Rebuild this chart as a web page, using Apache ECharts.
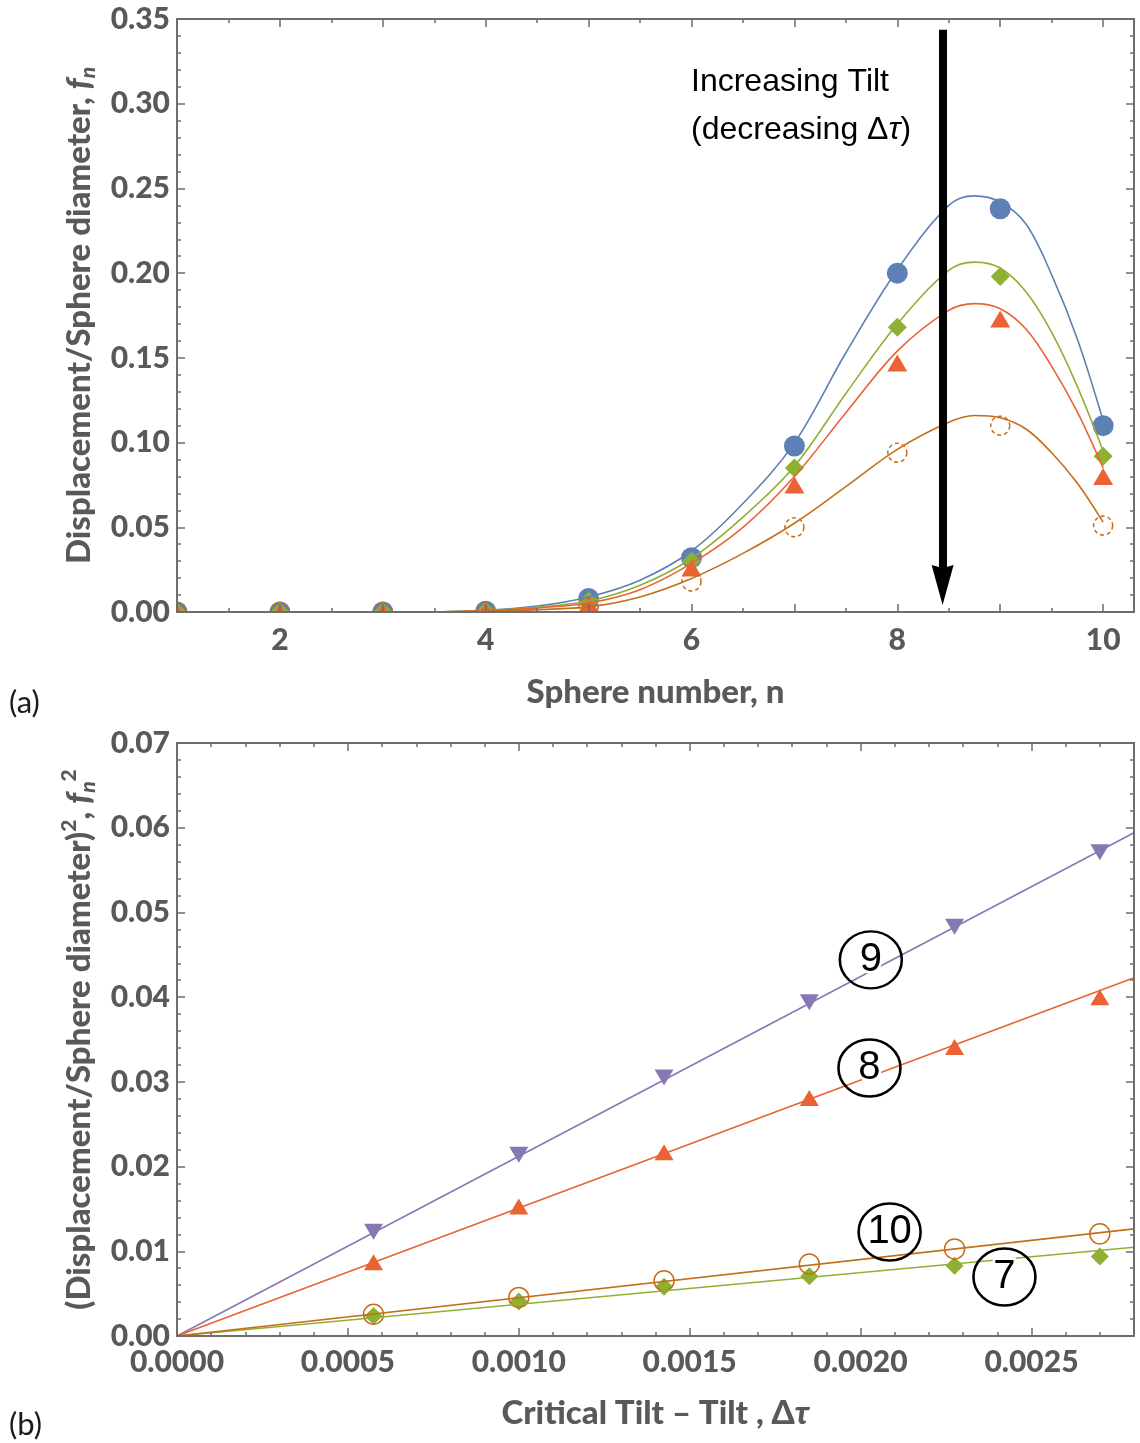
<!DOCTYPE html>
<html>
<head>
<meta charset="utf-8">
<script src="https://cdn.jsdelivr.net/npm/echarts@6/dist/echarts.min.js"></script>
<style>
html,body{margin:0;padding:0;background:#fff;}
#chart{width:1140px;height:1443px;}
</style>
</head>
<body>
<div id="chart"></div>
<script>
// ---------- Panel (a) data ----------
const sphereN = [1, 2, 3, 4, 5, 6, 7, 8, 9, 10];
const fBlue   = [0, 0, 0, 0.0005, 0.008, 0.032, 0.098, 0.200, 0.238, 0.110];
const fGreen  = [0, 0, 0, 0.0005, 0.0065, 0.030, 0.085, 0.168, 0.198, 0.092];
const fRed    = [0, 0, 0, 0.0004, 0.005, 0.026, 0.075, 0.147, 0.173, 0.080];
const fOrange = [0, 0, 0, 0.0003, 0.003, 0.018, 0.050, 0.094, 0.110, 0.051];

// fitted curves
const curveN      = [3.5, 4, 4.5, 5, 5.5, 6, 6.5, 7, 7.5, 8, 8.5, 8.75, 9, 9.25, 9.5, 9.75, 10];
const curveBlue   = [0, 0.001, 0.0035, 0.0089, 0.0188, 0.036, 0.064, 0.0998, 0.153, 0.202, 0.240, 0.2456, 0.242, 0.229, 0.199, 0.161, 0.113];
const curveGreen  = [0, 0.0008, 0.0028, 0.0065, 0.0158, 0.0316, 0.056, 0.086, 0.129, 0.170, 0.2016, 0.2065, 0.203, 0.189, 0.165, 0.133, 0.095];
const curveRed    = [0, 0.0007, 0.0024, 0.0053, 0.0132, 0.0287, 0.050, 0.080, 0.1176, 0.154, 0.178, 0.182, 0.179, 0.167, 0.145, 0.118, 0.085];
const curveOrange = [0, 0.0005, 0.0014, 0.003, 0.0089, 0.0198, 0.0346, 0.0524, 0.074, 0.096, 0.112, 0.116, 0.1146, 0.108, 0.094, 0.076, 0.053];

// arrow annotation (data coords)
const arrowN = 8.44;
const arrowTop = 0.3436;
const arrowShaftEnd = 0.024;
const arrowHeadCenter = 0.0159;

// ---------- Panel (b) data ----------
const tiltDelta = [0.000575, 0.001, 0.001425, 0.00185, 0.002275, 0.0027];
const f2n9  = [0.0123, 0.0214, 0.0305, 0.0394, 0.0483, 0.0571];
const f2n8  = [0.0087, 0.0153, 0.0217, 0.0281, 0.0341, 0.0400];
const f2n10 = [0.00257, 0.00455, 0.00652, 0.0085, 0.01028, 0.01206];
const f2n7  = [0.00237, 0.00407, 0.00581, 0.00704, 0.0083, 0.00937];

const fitX   = [0, 0.0028];
const fit9   = [0, 0.0594];
const fit8   = [0, 0.0423];
const fit10  = [0, 0.01265];
const fit7   = [0, 0.01047];

const tagNames = ['9', '8', '10', '7'];
const tagX = [0.00203, 0.002026, 0.002085, 0.002421];
const tagY = [0.0444, 0.03164, 0.01228, 0.00697];

// ---------- styles ----------
const BLUE = '#5E81B5', GREEN = '#8FB032', RED = '#EB6235', ORANGE = '#C56E1A', PURPLE = '#8778B3';
const AX = '#6e6e6e', LBL = '#595959';
const FONT = 'Lato, "Noto Sans", "DejaVu Sans", sans-serif';
const SANS = '"Liberation Sans", Arial, Helvetica, sans-serif';
const TS = 33; // axis title size

const zip = (xs, ys) => xs.map((x, i) => [x, ys[i]]);

function frameAxis(extra) {
  return Object.assign({
    type: 'value', z: 10,
    axisLine: { show: true, onZero: false, lineStyle: { color: AX, width: 2 } },
    axisTick: { show: true, inside: true, length: 8, lineStyle: { color: AX, width: 1.5 } },
    minorTick: { show: true, splitNumber: 5, length: 4, lineStyle: { color: AX, width: 1.5 } },
    splitLine: { show: false },
    minorSplitLine: { show: false },
    axisLabel: { show: false }
  }, extra);
}
const tickLabel = (fmt, margin) => ({
  show: true, margin: margin, fontSize: 30, fontWeight: 900, color: LBL, fontFamily: FONT, formatter: fmt
});
const nameStyle = {
  fontSize: TS, fontWeight: 900, color: LBL, fontFamily: FONT,
  rich: {
    f: { fontSize: TS, fontWeight: 900, fontStyle: 'italic', color: LBL, fontFamily: FONT, lineHeight: 40 },
    s: { fontSize: 21, fontWeight: 900, fontStyle: 'italic', color: LBL, fontFamily: FONT, lineHeight: 21, verticalAlign: 'bottom' },
    p: { fontSize: 21, fontWeight: 900, color: LBL, fontFamily: FONT, lineHeight: 21, verticalAlign: 'top' },
    t: { fontSize: TS, fontWeight: 900, fontStyle: 'italic', color: LBL, fontFamily: FONT, lineHeight: 40 },
    m: { fontSize: TS, fontWeight: 900, color: LBL, fontFamily: FONT, lineHeight: 40 }
  }
};

const isMult = (v, step) => Math.abs(v / step - Math.round(v / step)) < 1e-6;

const option = {
  animation: false,
  backgroundColor: '#ffffff',
  grid: [
    { left: 177, right: 6, top: 19, height: 593 },
    { left: 177, right: 6, top: 743, height: 593 }
  ],
  xAxis: [
    frameAxis({
      gridIndex: 0, position: 'bottom', min: 1, max: 10.3, interval: 1,
      minorTick: { show: true, splitNumber: 2, length: 4, lineStyle: { color: AX, width: 1.5 } },
      axisLabel: tickLabel(v => (isMult(v, 2) ? String(Math.round(v)) : ''), 13),
      name: '{m|Sphere number, n}', nameLocation: 'middle', nameGap: 60, nameTextStyle: nameStyle
    }),
    frameAxis({
      gridIndex: 0, position: 'top', min: 1, max: 10.3, interval: 1,
      minorTick: { show: true, splitNumber: 2, length: 4, lineStyle: { color: AX, width: 1.5 } }
    }),
    frameAxis({
      gridIndex: 1, position: 'bottom', min: 0, max: 0.0028, interval: 0.0005,
      axisLabel: tickLabel(v => (isMult(v, 0.0005) ? v.toFixed(4) : ''), 11),
      name: '{m|Critical Tilt – Tilt , Δ}{t|τ}', nameLocation: 'middle', nameGap: 57, nameTextStyle: nameStyle
    }),
    frameAxis({ gridIndex: 1, position: 'top', min: 0, max: 0.0028, interval: 0.0005 })
  ],
  yAxis: [
    frameAxis({
      gridIndex: 0, position: 'left', min: 0, max: 0.35, interval: 0.05,
      axisLabel: tickLabel(v => v.toFixed(2), 7),
      name: '{m|Displacement/Sphere diameter, }{f|f}{s|n}', nameLocation: 'middle', nameGap: 78, nameTextStyle: nameStyle
    }),
    frameAxis({ gridIndex: 0, position: 'right', min: 0, max: 0.35, interval: 0.05 }),
    frameAxis({
      gridIndex: 1, position: 'left', min: 0, max: 0.07, interval: 0.01,
      axisLabel: tickLabel(v => v.toFixed(2), 7),
      name: '{m|(Displacement/Sphere diameter)}{p|2}{m|, }{f|f}{s|n}{p|2}', nameLocation: 'middle', nameGap: 78, nameTextStyle: nameStyle
    }),
    frameAxis({ gridIndex: 1, position: 'right', min: 0, max: 0.07, interval: 0.01 })
  ],
  series: [
    // ----- panel (a) markers -----
    { type: 'scatter', xAxisIndex: 0, yAxisIndex: 0, data: zip(sphereN, fBlue), symbol: 'circle', symbolSize: 21, itemStyle: { color: BLUE, opacity: 1 } },
    { type: 'scatter', xAxisIndex: 0, yAxisIndex: 0, data: zip(sphereN, fGreen), symbol: 'diamond', symbolSize: [19, 19], itemStyle: { color: GREEN, opacity: 1 } },
    { type: 'scatter', xAxisIndex: 0, yAxisIndex: 0, data: zip(sphereN, fRed), symbol: 'triangle', symbolSize: [20, 17], itemStyle: { color: RED, opacity: 1 } },
    { type: 'scatter', xAxisIndex: 0, yAxisIndex: 0, data: zip(sphereN, fOrange), symbol: 'circle', symbolSize: 19,
      itemStyle: { color: 'rgba(255,255,255,0)', borderColor: ORANGE, borderWidth: 1.5, borderType: [4, 3], opacity: 1 } },
    // ----- panel (a) curves -----
    { type: 'line', xAxisIndex: 0, yAxisIndex: 0, data: zip(curveN, curveBlue), smooth: 0.35, showSymbol: false, lineStyle: { color: BLUE, width: 1.6 } },
    { type: 'line', xAxisIndex: 0, yAxisIndex: 0, data: zip(curveN, curveGreen), smooth: 0.35, showSymbol: false, lineStyle: { color: GREEN, width: 1.6 } },
    { type: 'line', xAxisIndex: 0, yAxisIndex: 0, data: zip(curveN, curveRed), smooth: 0.35, showSymbol: false, lineStyle: { color: RED, width: 1.6 } },
    { type: 'line', xAxisIndex: 0, yAxisIndex: 0, data: zip(curveN, curveOrange), smooth: 0.35, showSymbol: false, lineStyle: { color: ORANGE, width: 1.6 },
      markLine: {
        silent: true, animation: false,
        symbol: ['none', 'none'],
        label: { show: false },
        lineStyle: { color: '#000', width: 8, type: 'solid', opacity: 1 },
        data: [[{ coord: [arrowN, arrowTop] }, { coord: [arrowN, arrowShaftEnd] }]]
      },
      markPoint: {
        silent: true, animation: false,
        symbol: 'path://M0,0 L11,3 L22,0 L11,40 Z', symbolSize: [22, 40], symbolKeepAspect: false,
        itemStyle: { color: '#000' },
        label: { show: false },
        data: [{ coord: [arrowN, arrowHeadCenter] }]
      }
    },
    // ----- panel (b) markers -----
    { type: 'scatter', xAxisIndex: 2, yAxisIndex: 2, data: zip(tiltDelta, f2n9), symbol: 'triangle', symbolRotate: 180, symbolSize: [19, 16], itemStyle: { color: PURPLE, opacity: 1 } },
    { type: 'scatter', xAxisIndex: 2, yAxisIndex: 2, data: zip(tiltDelta, f2n8), symbol: 'triangle', symbolSize: [19, 16], itemStyle: { color: RED, opacity: 1 } },
    { type: 'scatter', xAxisIndex: 2, yAxisIndex: 2, data: zip(tiltDelta, f2n7), symbol: 'diamond', symbolSize: [18, 18], itemStyle: { color: GREEN, opacity: 1 } },
    { type: 'scatter', xAxisIndex: 2, yAxisIndex: 2, data: zip(tiltDelta, f2n10), symbol: 'circle', symbolSize: 20,
      itemStyle: { color: 'rgba(255,255,255,0)', borderColor: ORANGE, borderWidth: 1.5, opacity: 1 } },
    // ----- panel (b) fit lines -----
    { type: 'line', xAxisIndex: 2, yAxisIndex: 2, data: zip(fitX, fit9), showSymbol: false, lineStyle: { color: PURPLE, width: 1.6 } },
    { type: 'line', xAxisIndex: 2, yAxisIndex: 2, data: zip(fitX, fit8), showSymbol: false, lineStyle: { color: RED, width: 1.6 } },
    { type: 'line', xAxisIndex: 2, yAxisIndex: 2, data: zip(fitX, fit7), showSymbol: false, lineStyle: { color: GREEN, width: 1.6 } },
    { type: 'line', xAxisIndex: 2, yAxisIndex: 2, data: zip(fitX, fit10), showSymbol: false, lineStyle: { color: ORANGE, width: 1.6 },
      markPoint: {
        silent: true, animation: false,
        symbol: 'circle', symbolSize: [62, 57],
        itemStyle: { color: 'rgba(255,255,255,0)', borderColor: '#000', borderWidth: 2.5 },
        label: { show: true, position: 'inside', formatter: '{b}', fontSize: 40, color: '#000', fontFamily: SANS,
          textBorderColor: '#fff', textBorderWidth: 5 },
        data: tagNames.map((t, i) => ({ name: t, coord: [tagX[i], tagY[i]] }))
      }
    }
  ],
  graphic: [
    // hide the parts of markers lying outside panel (a) plot range
    { type: 'rect', z: 5, silent: true, shape: { x: 140, y: 613, width: 1000, height: 14 }, style: { fill: '#fff' } },
    { type: 'rect', z: 5, silent: true, shape: { x: 150, y: 588, width: 26, height: 39 }, style: { fill: '#fff' } },
    { type: 'text', z: 30, x: 691, y: 82, style: { text: 'Increasing Tilt', fontSize: 32, fontFamily: SANS, fill: '#000', verticalAlign: 'middle' } },
    { type: 'text', z: 30, x: 691, y: 130, style: { text: '(decreasing Δ{t|τ})', fontSize: 32, fontFamily: SANS, fill: '#000', verticalAlign: 'middle',
      rich: { t: { fontSize: 32, fontFamily: SANS, fontStyle: 'italic', fill: '#000' } } } },
    { type: 'text', z: 30, x: 9, y: 703, style: { text: '(a)', fontSize: 31, fontFamily: FONT, fill: '#1a1a1a', verticalAlign: 'middle' } },
    { type: 'text', z: 30, x: 9, y: 1425, style: { text: '(b)', fontSize: 31, fontFamily: FONT, fill: '#1a1a1a', verticalAlign: 'middle' } }
  ]
};

const chart = echarts.init(document.getElementById('chart'), null, { renderer: 'canvas' });
chart.setOption(option);
</script>
</body>
</html>
